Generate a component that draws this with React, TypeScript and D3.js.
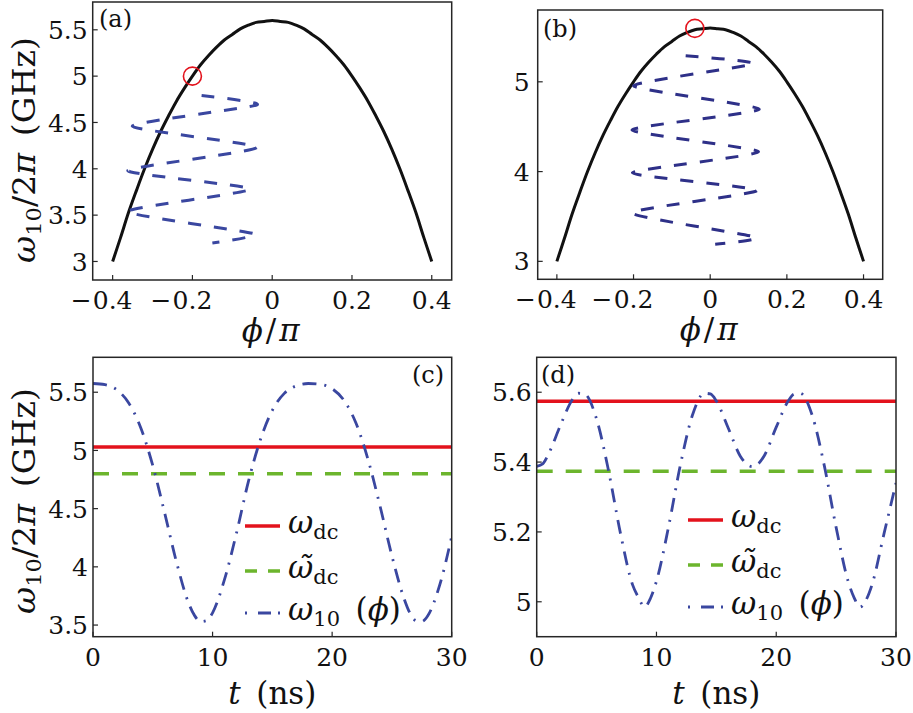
import React from 'react';
import * as d3 from 'd3';

const FONT = "'DejaVu Serif', serif";

// (a),(b): transition frequency curve omega10(phi)
const PHI_GRID = [-0.4, -0.38, -0.36, -0.34, -0.32, -0.3, -0.28, -0.26, -0.24, -0.22, -0.2, -0.18, -0.16, -0.14, -0.12, -0.1, -0.08, -0.06, -0.04, -0.02, 0,
  0.02, 0.04, 0.06, 0.08, 0.1, 0.12, 0.14, 0.16, 0.18, 0.2, 0.22, 0.24, 0.26, 0.28, 0.3, 0.32, 0.34, 0.36, 0.38, 0.4];
const OMEGA_CURVE = [3.0, 3.26, 3.53, 3.77, 4.0, 4.21, 4.4, 4.57, 4.73, 4.87, 5.0, 5.12, 5.22, 5.31, 5.39, 5.45, 5.51, 5.55, 5.58, 5.59, 5.6,
  5.59, 5.58, 5.55, 5.51, 5.45, 5.39, 5.31, 5.22, 5.12, 5.0, 4.87, 4.73, 4.57, 4.4, 4.21, 4.0, 3.77, 3.53, 3.26, 3.0];

// zigzag flux trajectories (turning points)
const ZIG_A_PHI = [-0.177, -0.038, -0.351, -0.038, -0.362, -0.055, -0.363, -0.046, -0.15];
const ZIG_A_W = [4.79, 4.69, 4.46, 4.23, 3.98, 3.78, 3.54, 3.3, 3.2];
const ZIG_B_PHI = [-0.064, 0.113, -0.2, 0.128, -0.204, 0.126, -0.203, 0.122, -0.204, 0.119, 0.013];
const ZIG_B_W = [5.29, 5.2, 4.955, 4.695, 4.464, 4.22, 3.985, 3.79, 3.54, 3.27, 3.19];

// operating points (red circles)
const CIRCLE_A = [-0.2, 5.0];
const CIRCLE_B = [-0.04, 5.595];

// (c) time traces
const T_C = [0, 1, 2, 3, 4, 5, 6, 7, 8, 8.5, 9, 9.5, 10, 11, 12, 13, 14, 15, 16, 17, 18, 19, 20, 21, 22, 23, 24, 25, 26, 26.5, 27, 27.5, 28, 29, 30];
const W_C = [5.575, 5.565, 5.52, 5.406, 5.193, 4.87, 4.46, 4.034, 3.687, 3.581, 3.53, 3.538, 3.605, 3.892, 4.29, 4.734, 5.092, 5.345, 5.49, 5.555, 5.575, 5.568, 5.53, 5.429, 5.233, 4.923, 4.525, 4.094, 3.732, 3.604, 3.538, 3.53, 3.58, 3.845, 4.26];
const WDC_C = 5.03;
const WDC_TILDE_C = 4.8;

// (d) time traces
const T_D = [0, 0.5, 1, 2, 3, 3.5, 4, 5, 6, 7, 8, 8.5, 9, 9.5, 10, 11, 12, 13, 14, 14.5, 15, 16, 17, 18, 18.5, 19, 20, 21, 21.5, 22, 23, 24, 25, 26, 26.5, 27, 27.5, 28, 29, 30];
const W_D = [5.388, 5.395, 5.424, 5.507, 5.58, 5.597, 5.595, 5.523, 5.375, 5.195, 5.049, 5.012, 4.985, 5.01, 5.059, 5.213, 5.392, 5.534, 5.597, 5.595, 5.575, 5.497, 5.417, 5.387, 5.395, 5.418, 5.5, 5.575, 5.595, 5.597, 5.534, 5.392, 5.213, 5.059, 5.012, 4.985, 5.005, 5.049, 5.195, 5.34];
const WDC_D = 5.574;
const WDC_TILDE_D = 5.374;

const X_TICKS_PHI = [-0.4, -0.2, 0, 0.2, 0.4];
const Y_TICKS_A = [3, 3.5, 4, 4.5, 5, 5.5];
const Y_TICKS_B = [3, 4, 5];
const Y_TICKS_C = [3.5, 4, 4.5, 5, 5.5];
const Y_TICKS_D = [5, 5.2, 5.4, 5.6];
const X_TICKS_T = [0, 10, 20, 30];

const BLUE = '#3a47a0';
const BLUE_B = '#2e3088';
const RED = '#e3121c';
const GREEN = '#6cb52d';
const FRAME = '#262626';

const TICK_FS = 25;

type Box = { left: number; right: number; top: number; bottom: number };

function Frame({ box, xs, ys, xTicks, yTicks, yGap, signedX }: any) {
  const els: any[] = [];
  xTicks.forEach((t: number, i: number) => {
    const x = xs(t);
    els.push(<line key={'xt' + i} x1={x} x2={x} y1={box.bottom} y2={box.bottom - 5} stroke={FRAME} strokeWidth={1.2} />);
    const label = d3.format('')(Math.abs(t));
    const ty = box.bottom + 29;
    els.push(<text key={'xl' + i} x={x} y={ty} textAnchor="middle" fontSize={TICK_FS} fontFamily={FONT} fill="#111">{label}</text>);
    if (signedX && t < 0) {
      els.push(<text key={'xm' + i} x={x - 21} y={ty} textAnchor="end" fontSize={TICK_FS} fontFamily={FONT} fill="#111">{'\u2212'}</text>);
    }
  });
  yTicks.forEach((t: number, i: number) => {
    const y = ys(t);
    els.push(<line key={'yt' + i} x1={box.left} x2={box.left + 5} y1={y} y2={y} stroke={FRAME} strokeWidth={1.2} />);
    els.push(<text key={'yl' + i} x={box.left - yGap} y={y + 0.3645 * TICK_FS} textAnchor="end" fontSize={TICK_FS} fontFamily={FONT} fill="#111">{d3.format('')(t)}</text>);
  });
  els.push(<rect key="frame" x={box.left} y={box.top} width={box.right - box.left} height={box.bottom - box.top} fill="none" stroke={FRAME} strokeWidth={1.5} />);
  return <g>{els}</g>;
}

function PhiPanel({ box, yTicks, zigPhi, zigW, zigColor, circle, label, labelX, labelY, yGap, clipId }: any) {
  const xs = d3.scaleLinear().domain([-0.45, 0.45]).range([box.left, box.right]);
  const ys = d3.scaleLinear().domain([2.8, 5.8]).range([box.bottom, box.top]);
  const curve = d3.line<number>().x((_, i) => xs(PHI_GRID[i])).y((d) => ys(d)).curve(d3.curveCatmullRom)(OMEGA_CURVE) || '';
  const zig = d3.line<number>().x((_, i) => xs(zigPhi[i])).y((d) => ys(d)).curve(d3.curveCardinal.tension(0.45))(zigW) || '';
  return (
    <g>
      <defs>
        <clipPath id={clipId}><rect x={box.left} y={box.top} width={box.right - box.left} height={box.bottom - box.top} /></clipPath>
      </defs>
      <g clipPath={`url(#${clipId})`}>
        <path d={curve} fill="none" stroke="#111" strokeWidth={3} />
        <path d={zig} fill="none" stroke={zigColor} strokeWidth={3} strokeDasharray="13,13" />
        <circle cx={xs(circle[0])} cy={ys(circle[1])} r={9} fill="none" stroke={RED} strokeWidth={1.6} />
      </g>
      <Frame box={box} xs={xs} ys={ys} xTicks={X_TICKS_PHI} yTicks={yTicks} yGap={yGap} signedX={true} />
      <text x={labelX} y={labelY} fontSize={24} fontFamily={FONT} fill="#111">{label}</text>
      <text x={(box.left + box.right) / 2} y={box.bottom + 61} textAnchor="middle" fontSize={31} fontFamily={FONT} fill="#111" letterSpacing={3}>
        <tspan fontStyle="italic">{'\u03D5'}</tspan><tspan>/</tspan><tspan fontStyle="italic">{'\u03C0'}</tspan>
      </text>
    </g>
  );
}

function Legend({ x, y }: any) {
  const rows = [0, 45, 87];
  const lx1 = x, lx2 = x + 35, tx = x + 43;
  return (
    <g fontFamily={FONT} fill="#111">
      <line x1={lx1} x2={lx2} y1={y + rows[0]} y2={y + rows[0]} stroke={RED} strokeWidth={3.5} />
      <text x={tx} y={y + rows[0] + 7} fontSize={31}>
        <tspan fontStyle="italic">ω</tspan><tspan fontSize={21} dy={6}>dc</tspan>
      </text>
      <line x1={lx1} x2={lx2} y1={y + rows[1]} y2={y + rows[1]} stroke={GREEN} strokeWidth={3.5} strokeDasharray="12,11" />
      <text x={tx} y={y + rows[1] + 7} fontSize={31}>
        <tspan fontStyle="italic">{'ω\u0303'}</tspan><tspan fontSize={21} dy={6}>dc</tspan>
      </text>
      <line x1={lx1} x2={lx2} y1={y + rows[2]} y2={y + rows[2]} stroke={BLUE} strokeWidth={2.8} strokeDasharray="2,11,13,7,2,20" />
      <text x={tx} y={y + rows[2] + 7} fontSize={31}>
        <tspan fontStyle="italic">ω</tspan><tspan fontSize={21} dy={6}>10</tspan><tspan dy={-6}>{'\u2002('}</tspan><tspan fontStyle="italic">{'\u03D5'}</tspan><tspan>)</tspan>
      </text>
    </g>
  );
}

function TimePanel({ box, yDomain, yTicks, T, W, wdc, wdct, label, labelX, labelY, legendX, legendY, clipId }: any) {
  const xs = d3.scaleLinear().domain([0, 30]).range([box.left, box.right]);
  const ys = d3.scaleLinear().domain(yDomain).range([box.bottom, box.top]);
  const trace = d3.line<number>().x((_, i) => xs(T[i])).y((d) => ys(d)).curve(d3.curveMonotoneX)(W) || '';
  return (
    <g>
      <defs>
        <clipPath id={clipId}><rect x={box.left} y={box.top} width={box.right - box.left} height={box.bottom - box.top} /></clipPath>
      </defs>
      <g clipPath={`url(#${clipId})`}>
        <line x1={xs(0)} x2={xs(30)} y1={ys(wdc)} y2={ys(wdc)} stroke={RED} strokeWidth={3.5} />
        <line x1={xs(0)} x2={xs(30)} y1={ys(wdct)} y2={ys(wdct)} stroke={GREEN} strokeWidth={3.5} strokeDasharray="16,13" />
        <path d={trace} fill="none" stroke={BLUE} strokeWidth={2.8} strokeDasharray="14,8,2,8" />
      </g>
      <Frame box={box} xs={xs} ys={ys} xTicks={X_TICKS_T} yTicks={yTicks} yGap={5} signedX={false} />
      <text x={labelX} y={labelY} fontSize={24} fontFamily={FONT} fill="#111">{label}</text>
      <text x={(box.left + box.right) / 2} y={box.bottom + 67} textAnchor="middle" fontSize={31} fontFamily={FONT} fill="#111">
        <tspan fontStyle="italic">t</tspan><tspan>{'\u2002(ns)'}</tspan>
      </text>
      <Legend x={legendX} y={legendY} />
    </g>
  );
}

function YTitle({ x, y }: any) {
  return (
    <text transform={`translate(${x},${y}) rotate(-90)`} textAnchor="middle" fontSize={31} fontFamily={FONT} fill="#111" textLength={226} lengthAdjust="spacingAndGlyphs">
      <tspan fontStyle="italic">ω</tspan><tspan fontSize={21} dy={6}>10</tspan><tspan dy={-6}>/2</tspan><tspan fontStyle="italic">π</tspan><tspan>{'\u2002(GHz)'}</tspan>
    </text>
  );
}

export default function App() {
  const boxA: Box = { left: 92.7, right: 451.7, top: 2, bottom: 280 };
  const boxB: Box = { left: 537.7, right: 882.7, top: 10, bottom: 279.3 };
  const boxC: Box = { left: 93, right: 451.7, top: 357.3, bottom: 636.7 };
  const boxD: Box = { left: 536.7, right: 896, top: 357.3, bottom: 636.7 };
  return (
    <svg width={913} height={713} style={{ position: 'absolute', left: 0, top: 0, background: '#fff' }}>
      <rect x={0} y={0} width={913} height={713} fill="#fff" />
      <PhiPanel box={boxA} yTicks={Y_TICKS_A} zigPhi={ZIG_A_PHI} zigW={ZIG_A_W} zigColor={BLUE} circle={CIRCLE_A} label="(a)" labelX={99} labelY={27} yGap={5} clipId="ca" />
      <PhiPanel box={boxB} yTicks={Y_TICKS_B} zigPhi={ZIG_B_PHI} zigW={ZIG_B_W} zigColor={BLUE_B} circle={CIRCLE_B} label="(b)" labelX={543} labelY={37} yGap={8} clipId="cb" />
      <TimePanel box={boxC} yDomain={[3.4, 5.8]} yTicks={Y_TICKS_C} T={T_C} W={W_C} wdc={WDC_C} wdct={WDC_TILDE_C} label="(c)" labelX={412} labelY={383} legendX={245} legendY={526} clipId="cc" />
      <TimePanel box={boxD} yDomain={[4.9, 5.7]} yTicks={Y_TICKS_D} T={T_D} W={W_D} wdc={WDC_D} wdct={WDC_TILDE_D} label="(d)" labelX={541} labelY={383} legendX={688} legendY={520} clipId="cd" />
      <YTitle x={35} y={150} />
      <YTitle x={35} y={501} />
    </svg>
  );
}
